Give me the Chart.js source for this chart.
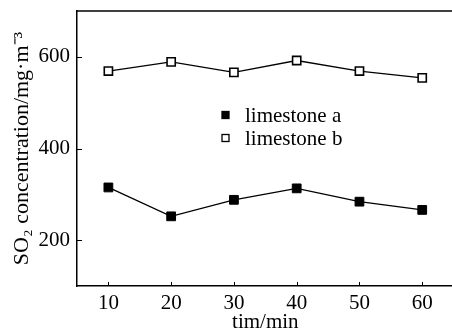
<!DOCTYPE html>
<html>
<head>
<meta charset="utf-8">
<script src="https://cdn.jsdelivr.net/npm/chart.js@4.4.0/dist/chart.umd.min.js"></script>
<style>
  html, body { margin: 0; padding: 0; background: #fff; overflow: hidden; }
  canvas { display: block; }
</style>
</head>
<body>
<canvas id="SO2Chart" width="461" height="335"></canvas>
<script>
// data
var times = [10, 20, 30, 40, 50, 60];
var limestoneA = [315, 252, 288, 313, 284, 266];
var limestoneB = [569, 589, 566, 592, 569, 554];
var xTicks = [10, 20, 30, 40, 50, 60];
var yTicks = [200, 400, 600];

function toPoints(ys) {
  var pts = [];
  for (var i = 0; i < times.length; i++) {
    pts.push({ x: times[i], y: ys[i] });
  }
  return pts;
}

var FONT = "'Liberation Serif', 'Times New Roman', serif";

// top frame line + inward tick marks
var frame = {
  id: 'frame',
  afterDraw: function(chart) {
    var ctx = chart.ctx, a = chart.chartArea;
    var xs = chart.scales.x, ys = chart.scales.y;
    ctx.save();
    ctx.strokeStyle = '#000';
    ctx.lineWidth = 1.5;
    ctx.beginPath();
    ctx.moveTo(a.left, a.top);
    ctx.lineTo(a.right, a.top);
    ctx.stroke();
    ctx.lineWidth = 1;
    ctx.beginPath();
    xTicks.forEach(function(v) {
      var px = Math.round(xs.getPixelForValue(v)) + 0.5;
      ctx.moveTo(px, a.bottom);
      ctx.lineTo(px, a.bottom - 4);
    });
    yTicks.forEach(function(v) {
      var py = Math.round(ys.getPixelForValue(v)) + 0.5;
      ctx.moveTo(a.left, py);
      ctx.lineTo(a.left + 5, py);
    });
    ctx.stroke();
    ctx.restore();
  }
};

// legend inside the plot
var innerLegend = {
  id: 'innerLegend',
  afterDatasetsDraw: function(chart) {
    var ctx = chart.ctx;
    var items = chart.data.datasets;
    ctx.save();
    ctx.font = "21px " + FONT;
    ctx.textBaseline = 'middle';
    for (var i = 0; i < items.length; i++) {
      var y = 115 + i * 23;
      ctx.lineWidth = 1.3;
      ctx.strokeStyle = '#000';
      ctx.fillStyle = items[i].pointBackgroundColor;
      ctx.fillRect(222, y - 3.5, 7, 7);
      ctx.strokeRect(222, y - 3.5, 7, 7);
      ctx.fillStyle = '#000';
      ctx.fillText(items[i].label, 245, y + 1);
    }
    ctx.restore();
  }
};

var ctx = document.getElementById('SO2Chart').getContext('2d');
var chart = new Chart(ctx, {
  type: 'line',
  data: {
    datasets: [{
      label: 'limestone a',
      data: toPoints(limestoneA),
      borderColor: '#000',
      borderWidth: 1.3,
      pointStyle: 'rect',
      pointRadius: 6.2,
      pointBackgroundColor: '#000',
      pointBorderColor: '#000',
      pointBorderWidth: 1,
      tension: 0
    }, {
      label: 'limestone b',
      data: toPoints(limestoneB),
      borderColor: '#000',
      borderWidth: 1.3,
      pointStyle: 'rect',
      pointRadius: 5.8,
      pointBackgroundColor: '#fff',
      pointBorderColor: '#000',
      pointBorderWidth: 1.6,
      tension: 0
    }]
  },
  options: {
    responsive: false,
    animation: false,
    devicePixelRatio: 1,
    layout: { padding: { top: 11, right: 0, left: 0, bottom: 0 } },
    plugins: {
      legend: { display: false },
      tooltip: { enabled: false }
    },
    scales: {
      x: {
        type: 'linear',
        min: 5,
        max: 65,
        afterBuildTicks: function(s) { s.ticks = xTicks.map(function(v) { return { value: v }; }); },
        afterFit: function(s) { s.height = 49; s.paddingLeft = 0; s.paddingRight = 0; },
        grid: { display: false, drawTicks: false },
        border: { display: true, color: '#000', width: 1.5 },
        ticks: { color: '#000', font: { family: FONT, size: 21 }, padding: 5, maxRotation: 0 },
        title: { display: true, text: 'tim/min', color: '#000', font: { family: FONT, size: 21 }, padding: { top: 0, bottom: 0 } }
      },
      y: {
        min: 100,
        max: 700,
        afterBuildTicks: function(s) { s.ticks = yTicks.map(function(v) { return { value: v }; }); },
        afterFit: function(s) { s.width = 77; s.paddingTop = 0; s.paddingBottom = 0; },
        grid: { display: false, drawTicks: false },
        border: { display: true, color: '#000', width: 1.5 },
        ticks: { color: '#000', font: { family: FONT, size: 21 }, padding: 7 },
        title: { display: true, text: 'SO\u2082 concentration/mg\u00b7m\u207b\u00b3', color: '#000', font: { family: FONT, size: 22 }, padding: { top: 9, bottom: 0 } }
      }
    }
  },
  plugins: [frame, innerLegend]
});
</script>
</body>
</html>
